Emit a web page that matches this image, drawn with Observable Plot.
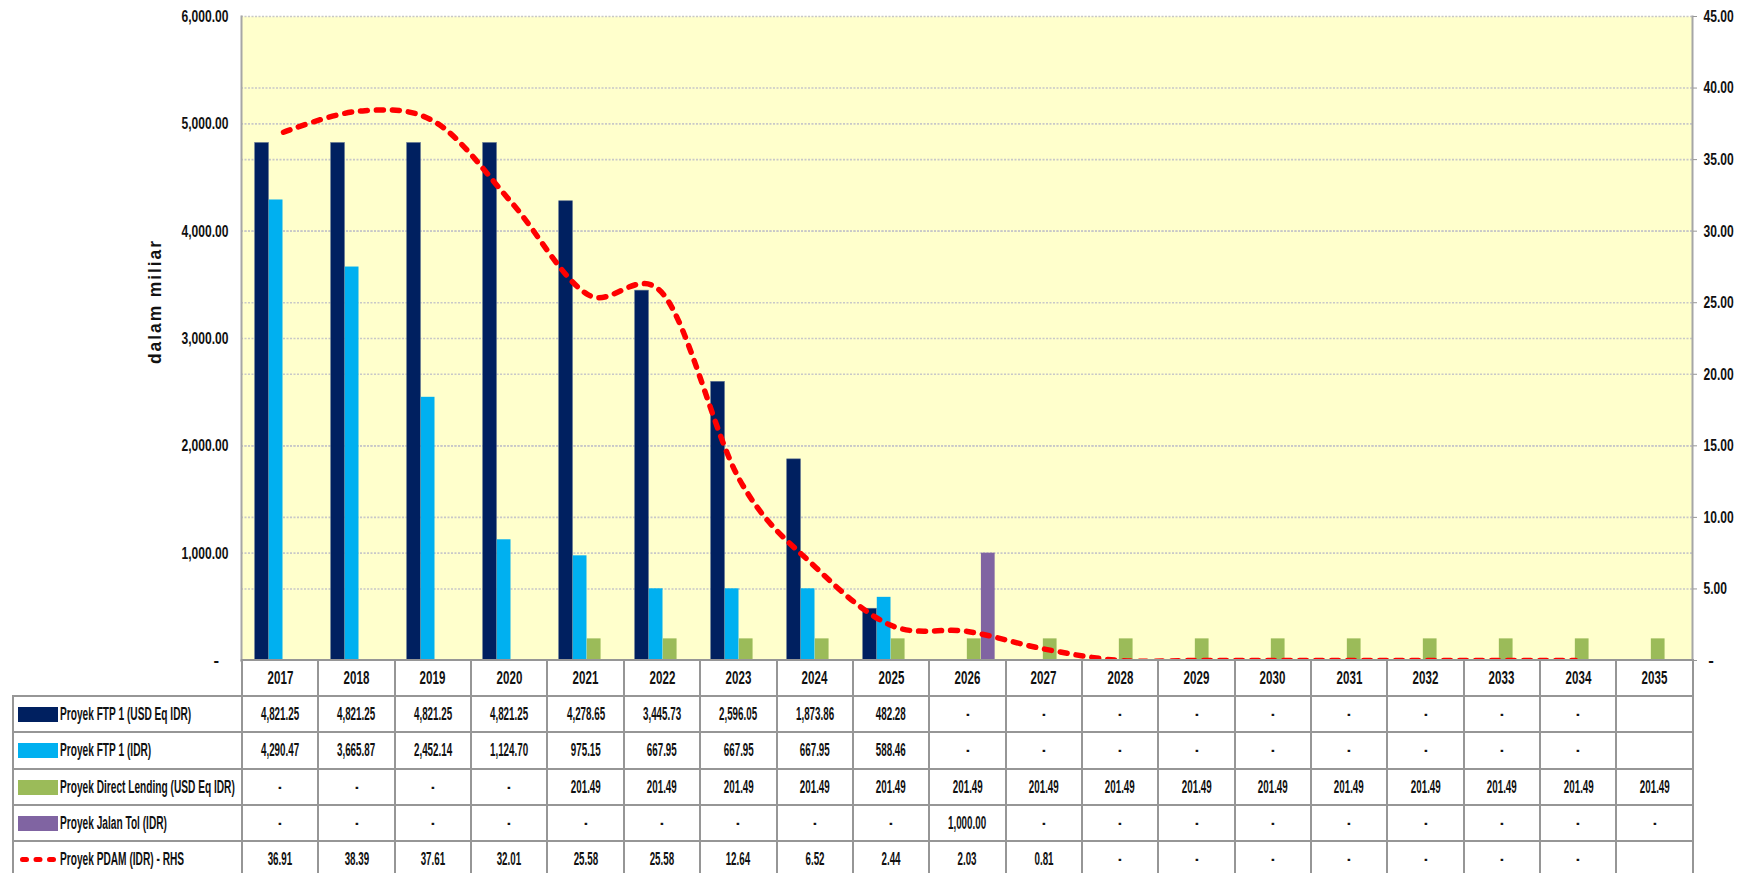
<!DOCTYPE html>
<html>
<head>
<meta charset="utf-8">
<script src="https://cdn.jsdelivr.net/npm/d3@7"></script>
<script src="https://cdn.jsdelivr.net/npm/@observablehq/plot@0.6"></script>
<style>
  body { margin: 0; background: #fff; }
  #wrap { position: relative; width: 1749px; height: 873px; overflow: hidden; font-family: "Liberation Sans", Arial, sans-serif; }
  #wrap > svg { position: absolute; left: 0; top: 0; }
  g[aria-label="text"] text { letter-spacing: 1.9px; }
  table { position: absolute; left: 12px; top: 659px; border-collapse: collapse; table-layout: fixed; width: 1680px; }
  td { border: 2px solid #969696; height: 34.2px; padding: 0; text-align: center; vertical-align: middle; line-height: 16px;
       background: #fff; font: bold 17.5px "Liberation Sans", Arial, sans-serif; color: #111; white-space: nowrap; overflow: hidden; }
  td.corner { border-top: hidden; border-left: hidden; background: transparent; }
  td.lab { text-align: left; padding-left: 4px; }
  .s { display: inline-block; transform-origin: center center; vertical-align: middle; }
  .hdr .s { transform: scaleX(0.66); }
  .val .s { transform: scaleX(0.56); }
  .lab .s { transform: scaleX(0.58); transform-origin: left center; margin-left: 2px; }
  .sw { display: inline-block; width: 40px; height: 15px; vertical-align: middle; }
  .swl { display: inline-block; vertical-align: middle; }
</style>
</head>
<body>
<div id="wrap"></div>
<script>
// ---- data ----
const years = ["2017","2018","2019","2020","2021","2022","2023","2024","2025","2026","2027","2028","2029","2030","2031","2032","2033","2034","2035"];
const ftpUsd = [4821.25, 4821.25, 4821.25, 4821.25, 4278.65, 3445.73, 2596.05, 1873.86, 482.28, 0, 0, 0, 0, 0, 0, 0, 0, 0, null];
const ftpIdr = [4290.47, 3665.87, 2452.14, 1124.70, 975.15, 667.95, 667.95, 667.95, 588.46, 0, 0, 0, 0, 0, 0, 0, 0, 0, null];
const directLending = [0, 0, 0, 0, 201.49, 201.49, 201.49, 201.49, 201.49, 201.49, 201.49, 201.49, 201.49, 201.49, 201.49, 201.49, 201.49, 201.49, 201.49];
const jalanTol = [0, 0, 0, 0, 0, 0, 0, 0, 0, 1000.00, 0, 0, 0, 0, 0, 0, 0, 0, 0];
const pdam = [36.91, 38.39, 37.61, 32.01, 25.58, 25.58, 12.64, 6.52, 2.44, 2.03, 0.81, 0, 0, 0, 0, 0, 0, 0, null];

const seriesNames = ["Proyek FTP 1 (USD Eq IDR)", "Proyek FTP 1 (IDR)", "Proyek Direct Lending (USD Eq IDR)", "Proyek Jalan Tol (IDR)", "Proyek PDAM (IDR) - RHS"];
const seriesColors = ["#002060", "#00B0F0", "#9BBB59", "#8064A2", "#FF0000"];

const leftTicks = [0, 1000, 2000, 3000, 4000, 5000, 6000];
const rightTicks = [0, 5, 10, 15, 20, 25, 30, 35, 40, 45];
const leftMax = 6000, rightMax = 45;
const k = leftMax / rightMax;

// ---- table for the library ----
const rows = years.map((year, i) => ({
  year, ftpUsd: ftpUsd[i], ftpIdr: ftpIdr[i], dl: directLending[i], tol: jalanTol[i],
  pdam: pdam[i], pdamScaled: pdam[i] == null ? null : pdam[i] * k
}));
const rightScaled = rightTicks.map(v => v * k);
const gridValues = Array.from(new Set([...leftTicks, ...rightScaled])).filter(v => v > 0);

const fmt = d3.format(",.2f");
const isZero = d => Math.abs(d) < 1e-9;

// bar placement inside each year band (styles)
const band = (1749 - 241 - 57) / years.length;
const bw = 14.1, off0 = 9.7, step = 14.07;
const inset = i => ({ insetLeft: off0 + i * step, insetRight: band - (off0 + i * step + bw) });

const font = "'Liberation Sans', Arial, sans-serif";

const chart = Plot.plot({
  width: 1749,
  height: 682,
  marginTop: 16,
  marginBottom: 22,
  marginLeft: 241,
  marginRight: 57,
  style: { fontFamily: font, fontWeight: "bold", fontSize: "16.8px", color: "#111", background: "transparent", overflow: "visible" },
  x: { type: "band", domain: years, padding: 0, axis: null },
  y: { domain: [0, leftMax], axis: null },
  marks: [
    Plot.frame({ fill: "#FFFFCC", stroke: null }),
    Plot.ruleY(gridValues, { stroke: "#c8c8c8", strokeWidth: 1.6, strokeDasharray: "2,1.5" }),
    Plot.barY(rows, { x: "year", y: "ftpUsd", fill: seriesColors[0], stroke: "#5c6f8f", strokeWidth: 0.6, ...inset(0) }),
    Plot.barY(rows, { x: "year", y: "ftpIdr", fill: seriesColors[1], ...inset(1) }),
    Plot.barY(rows, { x: "year", y: "dl", fill: seriesColors[2], ...inset(2) }),
    Plot.barY(rows, { x: "year", y: "tol", fill: seriesColors[3], ...inset(3) }),
    Plot.frame({ anchor: "left", stroke: "#a6a6a6", strokeWidth: 2 }),
    Plot.frame({ anchor: "right", stroke: "#a6a6a6", strokeWidth: 2 }),
    Plot.frame({ anchor: "bottom", stroke: "#969696", strokeWidth: 2 }),
    Plot.line(rows.filter(d => d.pdam != null), {
      x: "year", y: "pdamScaled", stroke: seriesColors[4], strokeWidth: 5.5,
      strokeDasharray: "7,9", strokeLinecap: "round", curve: "cardinal"
    }),
    Plot.axisY(leftTicks, { anchor: "left", tickFormat: d => isZero(d) ? "-\u00a0\u00a0" : fmt(d), tickSize: 0, tickPadding: 13, label: null }),
    Plot.axisY(rightScaled, { anchor: "right", tickFormat: d => isZero(d) ? "\u00a0-" : fmt(d / k), tickSize: 4, tickPadding: 7, stroke: "#969696", label: null }),
    Plot.text(["dalam miliar"], { frameAnchor: "left", textAnchor: "middle", dx: -86, dy: -37, rotate: -90, fontSize: 17.5, fontWeight: "bold", fill: "#111" })
  ]
});

const wrap = document.getElementById("wrap");
wrap.append(chart);

// narrow the tick labels to the condensed look of the original
chart.querySelectorAll('g[aria-label="y-axis tick label"] text').forEach(t => {
  if (!/\d/.test(t.textContent)) return;
  const L = t.getComputedTextLength();
  t.setAttribute("textLength", (L * 0.72).toFixed(2));
  t.setAttribute("lengthAdjust", "spacingAndGlyphs");
});

// ---- data table under the chart ----
const cell = v => v == null ? "" : (v === 0 ? "-" : fmt(v));
const valueSeries = [ftpUsd, ftpIdr, directLending, jalanTol, pdam];
let html = '<table><colgroup><col style="width:229px">' + years.map(() => `<col style="width:${band}px">`).join("") + '</colgroup>';
html += '<tr class="hdr"><td class="corner"></td>' + years.map(y => `<td><span class="s">${y}</span></td>`).join("") + '</tr>';
valueSeries.forEach((vals, si) => {
  const sw = si < 4
    ? `<span class="sw" style="background:${seriesColors[si]}"></span>`
    : `<svg class="swl" width="40" height="15"><line x1="4.5" x2="36.5" y1="7.5" y2="7.5" stroke="${seriesColors[4]}" stroke-width="5" stroke-linecap="round" stroke-dasharray="4,9.5"/></svg>`;
  html += `<tr class="val"><td class="lab">${sw}<span class="s">${seriesNames[si]}</span></td>` +
    vals.map(v => `<td><span class="s">${cell(v)}</span></td>`).join("") + '</tr>';
});
html += '</table>';
wrap.insertAdjacentHTML("beforeend", html);
</script>
</body>
</html>
